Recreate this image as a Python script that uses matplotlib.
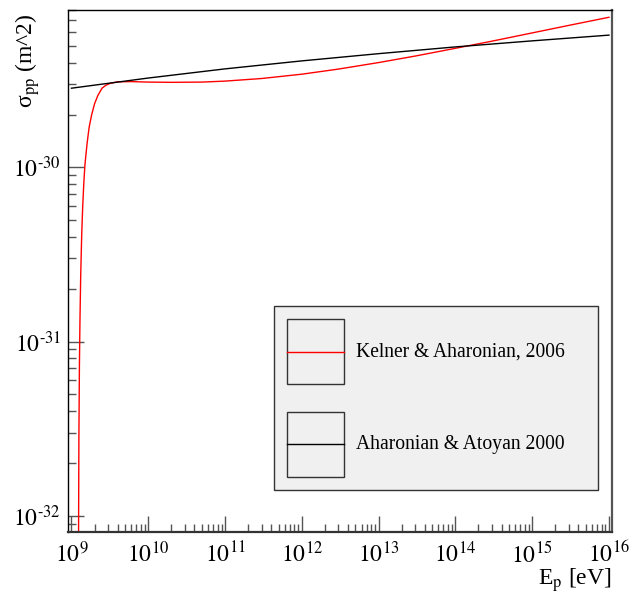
import numpy as np
import matplotlib
matplotlib.use('Agg')
import matplotlib.pyplot as plt
from matplotlib.legend_handler import HandlerLine2D
from matplotlib.patches import Rectangle
from matplotlib.ticker import FixedLocator, FuncFormatter, NullFormatter

plt.rcParams['font.family'] = ['Liberation Serif', 'DejaVu Serif']
plt.rcParams['mathtext.fontset'] = 'stix'

# Kelner & Aharonian 2006, E in eV, sigma in 1e-30 m^2
e_ka = [1.23e9, 1.25e9, 1.27e9, 1.29e9, 1.32e9, 1.36e9, 1.40e9, 1.45e9,
        1.50e9, 1.60e9, 1.70e9, 1.83e9, 2.0e9, 2.2e9, 2.5e9, 2.8e9, 3.2e9,
        4e9, 6e9, 1e10, 2e10, 5e10, 1e11, 3e11, 1e12, 3e12, 1e13, 3e13,
        1e14, 3e14, 1e15, 3e15, 1e16]
sig_ka = [0.0035, 0.028, 0.073, 0.13, 0.24, 0.41, 0.59, 0.82,
          1.04, 1.38, 1.70, 2.0, 2.32, 2.58, 2.85, 2.96, 3.04,
          3.10, 3.11, 3.09, 3.08, 3.09, 3.13, 3.24, 3.43, 3.67, 4.0, 4.36,
          4.83, 5.31, 5.92, 6.54, 7.28]

# Aharonian & Atoyan 2000
e_aa = [1e9, 1e10, 1e11, 1e12, 1e13, 1e14, 1e15, 1e16]
sig_aa = [2.85, 3.26, 3.68, 4.09, 4.50, 4.92, 5.33, 5.75]

labels = ['Kelner & Aharonian, 2006', 'Aharonian & Atoyan 2000']

# decades shown on each axis
x_decades = [9, 10, 11, 12, 13, 14, 15, 16]
y_decades = [-32, -31, -30]


class BoxedLine(HandlerLine2D):
    """Legend sample: line inside an outlined box, like ROOT's TLegend."""
    def create_artists(self, legend, orig_handle, xdescent, ydescent,
                       width, height, fontsize, trans):
        box = Rectangle((-xdescent, -ydescent), width, height, fill=False,
                        edgecolor='#333333', linewidth=1.0, transform=trans)
        line = plt.Line2D([-xdescent, -xdescent + width],
                          [-ydescent + height / 2] * 2,
                          color=orig_handle.get_color(),
                          linewidth=orig_handle.get_linewidth(),
                          transform=trans)
        return [box, line]


def minor_ticks(decades, lo, hi):
    vals = [m * 10.0 ** d for d in range(decades[0] - 1, decades[-1] + 1)
            for m in range(2, 10)]
    return [v for v in vals if lo <= v <= hi]


fig = plt.figure(figsize=(6.29, 5.95), dpi=100)
ax = fig.add_axes([0.1081, 0.1059, 0.8649, 0.8773])

l1, = ax.plot(e_ka, np.array(sig_ka) * 1e-30, color='red', lw=1.0)
l2, = ax.plot(e_aa, np.array(sig_aa) * 1e-30, color='black', lw=1.0)

ax.set_xscale('log')
ax.set_yscale('log')
xlo, xhi = 10 ** 8.955, 10 ** 16.04
ylo, yhi = 10 ** -32.094, 10 ** -29.096
ax.set_xlim(xlo, xhi)
ax.set_ylim(ylo, yhi)

fmt = FuncFormatter(lambda v, p: r'$10^{\text{%d}}$' % round(np.log10(v)))
ax.xaxis.set_major_locator(FixedLocator([10.0 ** d for d in x_decades]))
ax.yaxis.set_major_locator(FixedLocator([10.0 ** d for d in y_decades]))
ax.xaxis.set_minor_locator(FixedLocator(minor_ticks(x_decades, xlo, xhi)))
ax.yaxis.set_minor_locator(FixedLocator(minor_ticks(y_decades, ylo, yhi)))
for axis in (ax.xaxis, ax.yaxis):
    axis.set_major_formatter(fmt)
    axis.set_minor_formatter(NullFormatter())

ax.tick_params(which='both', direction='in', color='#555555', labelsize=17)
ax.tick_params(which='major', length=11.5, width=1.0)
ax.tick_params(which='minor', length=5.5, width=1.0)
ax.tick_params(axis='x', pad=7)
ax.tick_params(axis='y', pad=5)

ax.spines['left'].set_linewidth(1.0)
ax.spines['top'].set_linewidth(1.0)
ax.spines['bottom'].set_color('#333333')
ax.spines['bottom'].set_linewidth(1.6)
ax.spines['right'].set_color('#555555')
ax.spines['right'].set_linewidth(1.6)

fig.text(0.0445, 0.978, 'σ$_{\\mathrm{pp}}$ (m^2)', rotation=90,
         ha='center', va='top', fontsize=17)
fig.text(0.973, 0.018, 'E$_{\\mathrm{p}}$ [eV]', ha='right',
         va='baseline', fontsize=17)

leg = ax.legend([l1, l2], labels, handler_map={plt.Line2D: BoxedLine()},
                loc='lower left', bbox_to_anchor=(0.3787, 0.0805, 0.5956, 0.3563),
                mode='expand', borderaxespad=0, fontsize=14.1,
                handlelength=2.91, handleheight=4.72, labelspacing=1.41,
                borderpad=0.68, handletextpad=0.6, fancybox=False,
                framealpha=1.0)
leg.get_frame().set_facecolor('#f0f0f0')
leg.get_frame().set_edgecolor('#333333')
leg.get_frame().set_linewidth(1.0)

plt.savefig('out.png', dpi=100)
